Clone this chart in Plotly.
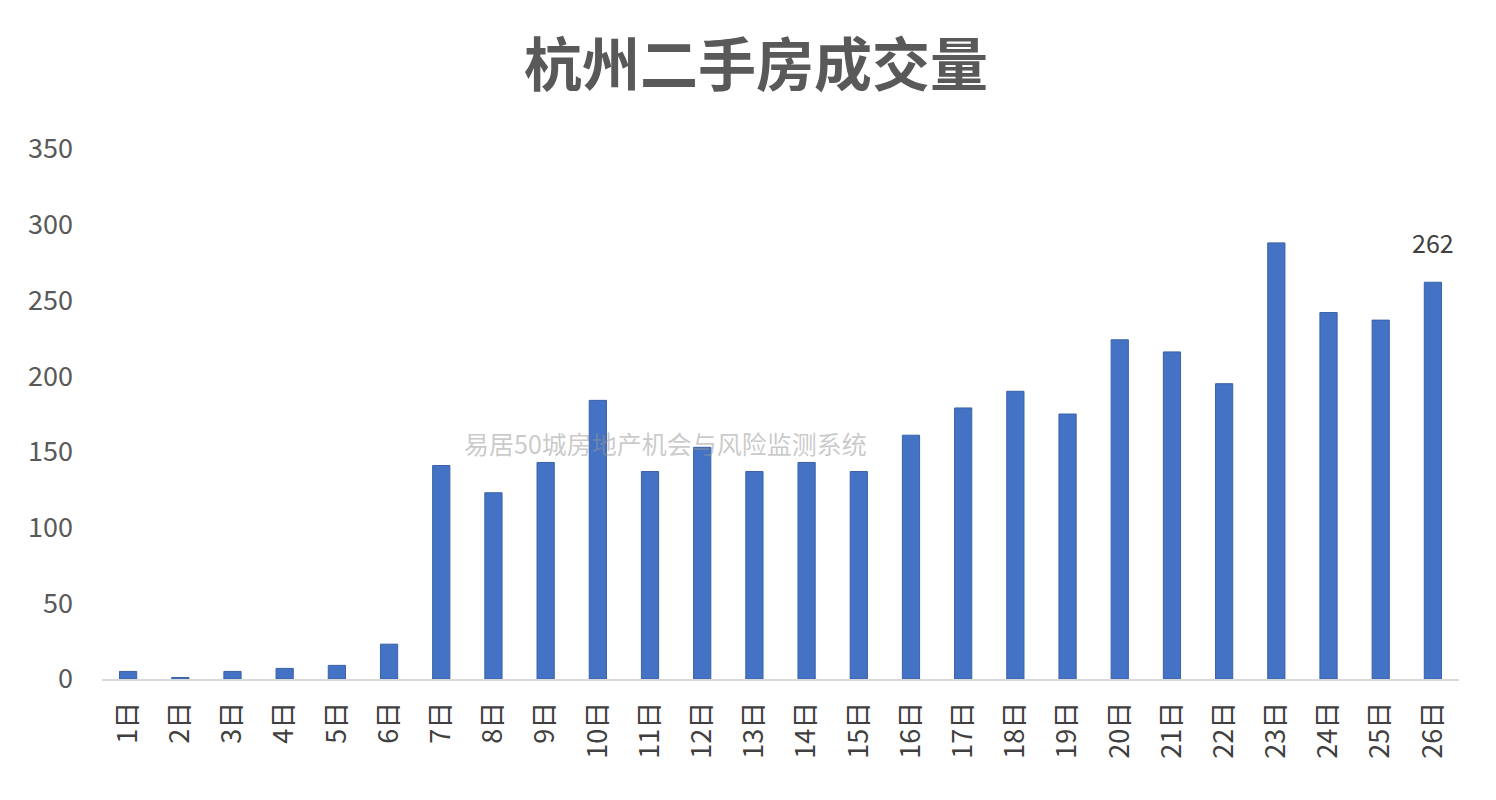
import plotly.graph_objects as go

days = [f"{i}日" for i in range(1, 27)]
volumes = [5, 1, 5, 7, 9, 23, 141, 123, 143, 184, 137, 153, 137, 143, 137,
           161, 179, 190, 175, 224, 216, 195, 288, 242, 237, 262]
labeled_index = 25
y_ticks = [0, 50, 100, 150, 200, 250, 300, 350]

title_text = "杭州二手房成交量"
watermark = "易居50城房地产机会与风险监测系统"

FONT = "Noto Sans CJK SC, Noto Sans, sans-serif"

fig = go.Figure()
fig.add_trace(go.Bar(
    x=days, y=volumes,
    marker=dict(color="#4472C4", line=dict(color="#3a62a8", width=1)),
    cliponaxis=False,
))

fig.update_layout(
    width=1496, height=800,
    paper_bgcolor="white", plot_bgcolor="white",
    margin=dict(l=94, r=45, t=141, b=129),
    bargap=0.67,
    showlegend=False,
    title=dict(text=f"<b>{title_text}</b>", x=0.5, xanchor="center",
               y=0.928, yanchor="middle",
               font=dict(size=58, color="#595959", family=FONT)),
    font=dict(family=FONT),
)

fig.update_yaxes(range=[0, 350], tickvals=y_ticks, showgrid=False,
                 zeroline=False, showline=False,
                 tickfont=dict(size=27, color="#595959", family=FONT),
                 ticklabelstandoff=28)
fig.update_xaxes(showgrid=False, showline=True, linecolor="#d9d9d9",
                 linewidth=2, tickangle=-90,
                 tickfont=dict(size=27, color="#404040", family=FONT),
                 ticklabelstandoff=10)

fig.add_annotation(text=str(volumes[labeled_index]), x=days[labeled_index],
                   y=volumes[labeled_index], yanchor="bottom", yshift=20,
                   showarrow=False,
                   font=dict(size=25, color="#404040", family=FONT))

fig.add_annotation(text=watermark, xref="paper", yref="paper",
                   x=(665 - 102) / (1459 - 102), y=(679 - 443) / 530,
                   showarrow=False,
                   font=dict(size=25, color="rgba(150,150,150,0.5)", family=FONT))

fig.write_html("out.html")
